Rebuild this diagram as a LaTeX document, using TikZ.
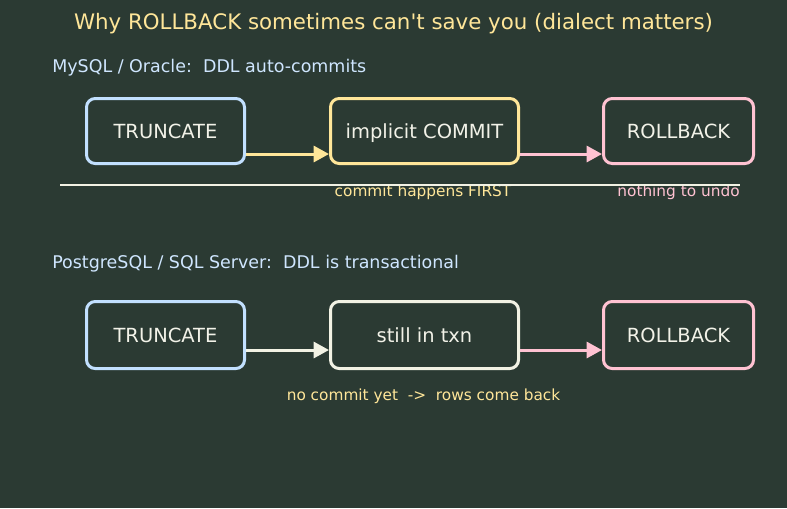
\documentclass[tikz,border=0pt]{standalone}
\usepackage{fontspec}
\setmainfont{DejaVu Sans}
\usetikzlibrary{arrows.meta, positioning}
\definecolor{bgc}{HTML}{2B3A33}
\definecolor{ink}{HTML}{F2F2E8}
\definecolor{blu}{HTML}{C2E0FF}
\definecolor{yel}{HTML}{FFE699}
\definecolor{pnk}{HTML}{FFC2D2}
\definecolor{crm}{HTML}{F2F2E4}
\definecolor{hdc}{HTML}{CFE6FF}

\begin{document}
\begin{tikzpicture}[x=0.75pt, y=-0.75pt,
  box/.style={draw, line width=2.25pt, rounded corners=6.5pt, text=ink, align=center,
              font=\fontsize{14.6}{17}\selectfont, minimum height=48.75pt, inner sep=0pt,
              text height=10.65pt, text depth=0pt},
  hd/.style={anchor=west, text=hdc, font=\fontsize{13.1}{15}\selectfont, inner sep=0pt},
  lbl/.style={font=\fontsize{11.5}{13}\selectfont, inner sep=0pt},
  ar/.style={-{Triangle[length=11.5pt, width=12pt]}, line width=2.25pt}]
\fill[bgc] (0,0) rectangle (787,508);
\useasboundingbox (0,0) rectangle (787,508);
\node[text=yel, font=\fontsize{16}{19}\selectfont] (title) at (393.5,24)
  {Why ROLLBACK sometimes can\textquotesingle t save you (dialect matters)};
% row 1: DDL commits on its own
\node[hd] (h1) at (52,68) {MySQL / Oracle:\ \ DDL auto-commits};
\node[box, draw=blu, minimum width=118.5pt] (tr1) at (165.5,131) {TRUNCATE};
\node[box, draw=yel, minimum width=141pt] (ic) at (424.5,131) {implicit COMMIT};
\node[box, draw=pnk, minimum width=112.5pt] (rb1) at (678.5,131) {ROLLBACK};
\draw[ar, yel] ([yshift=-17.25pt]tr1.east) -- ([yshift=-17.25pt]ic.west);
\draw[ar, pnk] ([yshift=-17.25pt]ic.east) -- ([yshift=-17.25pt]rb1.west);
\coordinate (sepl) at (60,185);
\coordinate (sepr) at (740,185);
\node[lbl, text=yel] (n1) at (423,192) {commit happens FIRST};
\node[lbl, text=pnk] (n2) at (678.5,192) {nothing to undo};
\draw[crm, line width=1.5pt] (sepl) -- (sepr);
% row 2: DDL stays inside the transaction
\node[hd] (h2) at (52,264) {PostgreSQL / SQL Server:\ \ DDL is transactional};
\node[box, draw=blu, minimum width=118.5pt, minimum height=50.25pt] (tr2) at (165.5,335) {TRUNCATE};
\node[box, draw=crm, minimum width=141pt, minimum height=50.25pt] (tx) at (424.5,335) {still in txn};
\node[box, draw=pnk, minimum width=112.5pt, minimum height=50.25pt] (rb2) at (678.5,335) {ROLLBACK};
\draw[ar, crm] ([yshift=-11.25pt]tr2.east) -- ([yshift=-11.25pt]tx.west);
\draw[ar, pnk] ([yshift=-11.25pt]tx.east) -- ([yshift=-11.25pt]rb2.west);
\node[lbl, text=yel] (n3) at (423.5,396) {no commit yet\ \ ->\ \ rows come back};
\end{tikzpicture}
\end{document}
